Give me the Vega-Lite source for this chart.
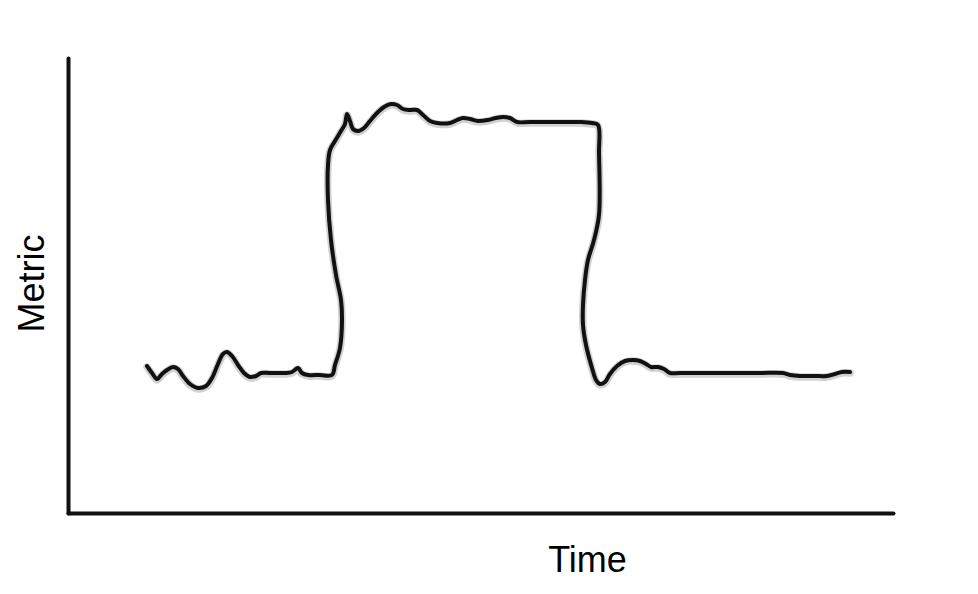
{
  "$schema": "https://vega.github.io/schema/vega-lite/v6.json",
  "width": 825,
  "height": 455,
  "autosize": {"type": "none"},
  "padding": {"left": 68, "top": 58, "right": 85, "bottom": 81},
  "background": "white",
  "config": {
    "view": {"stroke": null},
    "font": "Liberation Sans"
  },
  "data": {
    "values": [
      {"i": 0, "time": 79, "metric": 147},
      {"i": 1, "time": 84, "metric": 140},
      {"i": 2, "time": 89, "metric": 134},
      {"i": 3, "time": 94, "metric": 139},
      {"i": 4, "time": 99, "metric": 143},
      {"i": 5, "time": 105, "metric": 146},
      {"i": 6, "time": 110, "metric": 144},
      {"i": 7, "time": 115, "metric": 137},
      {"i": 8, "time": 122, "metric": 129},
      {"i": 9, "time": 130, "metric": 125},
      {"i": 10, "time": 138, "metric": 127},
      {"i": 11, "time": 144, "metric": 135},
      {"i": 12, "time": 150, "metric": 149},
      {"i": 13, "time": 155, "metric": 159},
      {"i": 14, "time": 159, "metric": 161},
      {"i": 15, "time": 164, "metric": 157},
      {"i": 16, "time": 170, "metric": 148},
      {"i": 17, "time": 176, "metric": 140},
      {"i": 18, "time": 182, "metric": 136},
      {"i": 19, "time": 188, "metric": 137},
      {"i": 20, "time": 193, "metric": 140},
      {"i": 21, "time": 202, "metric": 140},
      {"i": 22, "time": 217, "metric": 140},
      {"i": 23, "time": 224, "metric": 141},
      {"i": 24, "time": 230, "metric": 145},
      {"i": 25, "time": 234, "metric": 140},
      {"i": 26, "time": 240, "metric": 138},
      {"i": 27, "time": 252, "metric": 138},
      {"i": 28, "time": 264, "metric": 138},
      {"i": 29, "time": 267, "metric": 148},
      {"i": 30, "time": 272, "metric": 165},
      {"i": 31, "time": 274, "metric": 193},
      {"i": 32, "time": 273, "metric": 213},
      {"i": 33, "time": 268, "metric": 238},
      {"i": 34, "time": 263, "metric": 273},
      {"i": 35, "time": 260, "metric": 313},
      {"i": 36, "time": 260, "metric": 348},
      {"i": 37, "time": 262, "metric": 363},
      {"i": 38, "time": 267, "metric": 372},
      {"i": 39, "time": 273, "metric": 382},
      {"i": 40, "time": 277, "metric": 389},
      {"i": 41, "time": 279, "metric": 399},
      {"i": 42, "time": 282, "metric": 392},
      {"i": 43, "time": 285, "metric": 384},
      {"i": 44, "time": 290, "metric": 382},
      {"i": 45, "time": 296, "metric": 385},
      {"i": 46, "time": 302, "metric": 392},
      {"i": 47, "time": 309, "metric": 400},
      {"i": 48, "time": 316, "metric": 406},
      {"i": 49, "time": 323, "metric": 409},
      {"i": 50, "time": 329, "metric": 408},
      {"i": 51, "time": 335, "metric": 404},
      {"i": 52, "time": 342, "metric": 403},
      {"i": 53, "time": 349, "metric": 403},
      {"i": 54, "time": 355, "metric": 398},
      {"i": 55, "time": 362, "metric": 392},
      {"i": 56, "time": 369, "metric": 390},
      {"i": 57, "time": 382, "metric": 390},
      {"i": 58, "time": 389, "metric": 393},
      {"i": 59, "time": 395, "metric": 395},
      {"i": 60, "time": 402, "metric": 394},
      {"i": 61, "time": 410, "metric": 392},
      {"i": 62, "time": 420, "metric": 393},
      {"i": 63, "time": 428, "metric": 395},
      {"i": 64, "time": 435, "metric": 396},
      {"i": 65, "time": 442, "metric": 395},
      {"i": 66, "time": 449, "metric": 391},
      {"i": 67, "time": 462, "metric": 391},
      {"i": 68, "time": 492, "metric": 391},
      {"i": 69, "time": 512, "metric": 391},
      {"i": 70, "time": 524, "metric": 390},
      {"i": 71, "time": 530, "metric": 388},
      {"i": 72, "time": 531, "metric": 360},
      {"i": 73, "time": 531, "metric": 298},
      {"i": 74, "time": 526, "metric": 273},
      {"i": 75, "time": 520, "metric": 253},
      {"i": 76, "time": 517, "metric": 233},
      {"i": 77, "time": 515, "metric": 208},
      {"i": 78, "time": 515, "metric": 188},
      {"i": 79, "time": 518, "metric": 168},
      {"i": 80, "time": 524, "metric": 145},
      {"i": 81, "time": 528, "metric": 133},
      {"i": 82, "time": 532, "metric": 129},
      {"i": 83, "time": 537, "metric": 131},
      {"i": 84, "time": 542, "metric": 139},
      {"i": 85, "time": 549, "metric": 147},
      {"i": 86, "time": 557, "metric": 152},
      {"i": 87, "time": 565, "metric": 153},
      {"i": 88, "time": 572, "metric": 152},
      {"i": 89, "time": 578, "metric": 149},
      {"i": 90, "time": 583, "metric": 146},
      {"i": 91, "time": 590, "metric": 146},
      {"i": 92, "time": 596, "metric": 144},
      {"i": 93, "time": 602, "metric": 140},
      {"i": 94, "time": 612, "metric": 140},
      {"i": 95, "time": 652, "metric": 140},
      {"i": 96, "time": 692, "metric": 140},
      {"i": 97, "time": 715, "metric": 140},
      {"i": 98, "time": 722, "metric": 138},
      {"i": 99, "time": 732, "metric": 137},
      {"i": 100, "time": 747, "metric": 137},
      {"i": 101, "time": 759, "metric": 137},
      {"i": 102, "time": 767, "metric": 139},
      {"i": 103, "time": 774, "metric": 141},
      {"i": 104, "time": 782, "metric": 141}
    ]
  },
  "encoding": {
    "x": {
      "field": "time",
      "type": "quantitative",
      "scale": {"domain": [0, 825], "nice": false, "zero": false},
      "axis": {
        "title": "Time",
        "labels": false,
        "ticks": false,
        "grid": false,
        "domainColor": "#111111",
        "domainWidth": 4,
        "domainCap": "round",
        "titleFont": "Liberation Sans",
        "titleFontSize": 36,
        "titleFontWeight": "normal",
        "titleColor": "#000000",
        "titleX": 519,
        "titleY": 47,
        "titleAlign": "center",
        "titleBaseline": "middle"
      }
    },
    "y": {
      "field": "metric",
      "type": "quantitative",
      "scale": {"domain": [0, 455], "nice": false, "zero": false},
      "axis": {
        "title": "Metric",
        "labels": false,
        "ticks": false,
        "grid": false,
        "domainColor": "#111111",
        "domainWidth": 4,
        "domainCap": "round",
        "titleFont": "Liberation Sans",
        "titleFontSize": 36,
        "titleFontWeight": "normal",
        "titleColor": "#000000",
        "titleX": -36,
        "titleY": 225,
        "titleAngle": 270,
        "titleAlign": "center",
        "titleBaseline": "middle"
      }
    },
    "order": {"field": "i", "type": "quantitative"}
  },
  "layer": [
    {
      "mark": {
        "type": "line",
        "interpolate": "catmull-rom",
        "color": "#000000",
        "opacity": 0.18,
        "strokeWidth": 7.5,
        "strokeCap": "round",
        "strokeJoin": "round",
        "yOffset": 1
      }
    },
    {
      "mark": {
        "type": "line",
        "interpolate": "catmull-rom",
        "color": "#111111",
        "strokeWidth": 4,
        "strokeCap": "round",
        "strokeJoin": "round"
      }
    }
  ]
}
